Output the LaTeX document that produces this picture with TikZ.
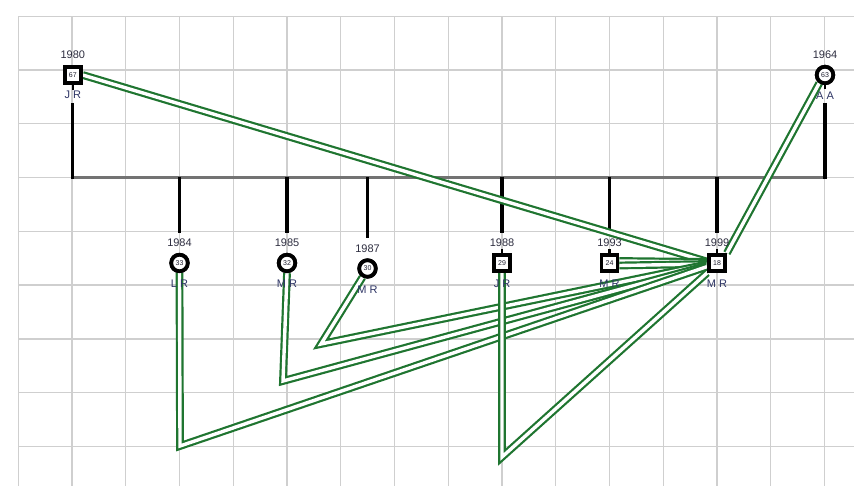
\documentclass[tikz,border=0pt]{standalone}
\usepackage{fontspec}
\setmainfont{Liberation Sans}
\definecolor{lg}{HTML}{1F7530}
\definecolor{yrc}{HTML}{2E2E40}
\definecolor{nmc}{HTML}{2E3565}
\definecolor{txt}{HTML}{202030}
\begin{document}
\begin{tikzpicture}[x=1pt,y=-1pt,
  gridline/.style={draw=gray!38, line width=1.4pt},
  timeline/.style={draw=gray!90!black, line width=3.2pt},
  tick/.style={draw=black, line width=3.2pt},
  stub/.style={draw=black, line width=2.4pt},
  sq/.style={rectangle, draw=black, fill=white, line width=3.8pt, minimum size=16pt, inner sep=0pt, font=\fontsize{7}{7}\selectfont, text=txt},
  ci/.style={circle, draw=black, fill=white, line width=3.8pt, minimum size=16.5pt, inner sep=0pt, font=\fontsize{7}{7}\selectfont, text=txt},
  yr/.style={font=\fontsize{11}{12}\selectfont, text=yrc, inner sep=0pt},
  nm/.style={font=\fontsize{11}{12}\selectfont, text=nmc, inner sep=0pt},
  link/.style={draw=lg, line width=2.2pt, double=white, double distance=3.4pt, line join=miter}
]
\fill[white] (0,0) rectangle (854,486);
\useasboundingbox (0,0) rectangle (854,486);
% grid
\foreach \k in {0,...,15} \draw[gridline] ({18.2+53.75*\k},16.3) -- ({18.2+53.75*\k},486);
\foreach \k in {0,...,8} \draw[gridline] (18.2,{16.3+53.75*\k}) -- (854,{16.3+53.75*\k});
% timeline
\coordinate (t1980) at (72.8,177.5);
\coordinate (t1964) at (825,177.5);
\coordinate (a1980) at (72.8,103);
\coordinate (a1964) at (825,103);
\draw[timeline] (t1980) -- (t1964);
\draw[tick] (a1980) -- ([yshift=-1.6pt]t1980);
\draw[tick] (a1964) -- ([yshift=-1.6pt]t1964);
\foreach \n/\x/\e in {1984/179.5/233, 1985/287/233, 1987/367.5/238, 1988/502/233, 1993/609.5/233, 1999/717/233}{
  \coordinate (t\n) at (\x,177.5);
  \coordinate (b\n) at (\x,\e);
  \draw[tick] (t\n) -- (b\n);
}
% shapes
\node[sq] (n1980) at (72.8,75) {67};
\node[ci] (n1964) at (825,75) {63};
\node[ci] (n1984) at (179.5,263) {33};
\node[ci] (n1985) at (287,263) {32};
\node[ci] (n1987) at (367.5,268.5) {30};
\node[sq] (n1988) at (502,263) {29};
\node[sq] (n1993) at (609.5,263) {24};
\node[sq] (n1999) at (717,263) {18};
% stubs
\draw[stub] (n1980.south) -- ++(0,5);
\draw[stub] (n1964.south) -- ++(0,4);
\draw[stub] (n1988.north) -- ++(0,-4);
\draw[stub] (n1993.north) -- ++(0,-4);
\draw[stub] (n1999.north) -- ++(0,-4);
% bends
\coordinate (k1984) at (180,446);
\coordinate (k1985) at (283,381);
\coordinate (k1987) at (321,344);
\coordinate (k1988) at (502,457);
% connectors
\draw[link] (n1980.east) -- (n1999.172);
\draw[link] (n1964.235) -- (n1999.north east);
\draw[link] ([yshift=2pt]n1993.east) -- ([yshift=1pt]n1999.west);
\draw[link] ([yshift=-2.5pt]n1993.east) -- ([yshift=-1pt]n1999.west);
\draw[link] (n1987.240) -- (k1987) -- (n1999.188);
\draw[link] (n1985.south) -- (k1985) -- (n1999.195);
\draw[link] (n1984.south) -- (k1984) -- (n1999.200);
\draw[link] (n1988.south) -- (k1988) -- (n1999.south west);
% redraw shapes on top
\node[sq] at (n1980) {67};
\node[ci] at (n1964) {63};
\node[ci] at (n1984) {33};
\node[ci] at (n1985) {32};
\node[ci] at (n1987) {30};
\node[sq] at (n1988) {29};
\node[sq] at (n1993) {24};
\node[sq] at (n1999) {18};
% labels
\node[yr] (y1980) at (72.8,55) {1980};
\node[nm] (l1980) at (72.8,95) {J R};
\node[yr] (y1964) at (825,55) {1964};
\node[nm] (l1964) at (825,96) {A A};
\node[yr] (y1984) at (179.5,243) {1984};
\node[nm] (l1984) at (179.5,284) {L R};
\node[yr] (y1985) at (287,243) {1985};
\node[nm] (l1985) at (287,284) {M R};
\node[yr] (y1987) at (367.5,249) {1987};
\node[nm] (l1987) at (367.5,290) {M R};
\node[yr] (y1988) at (502,243) {1988};
\node[nm] (l1988) at (502,284) {J R};
\node[yr] (y1993) at (609.5,243) {1993};
\node[nm] (l1993) at (609.5,284) {M R};
\node[yr] (y1999) at (717,243) {1999};
\node[nm] (l1999) at (717,284) {M R};
\end{tikzpicture}
\end{document}
